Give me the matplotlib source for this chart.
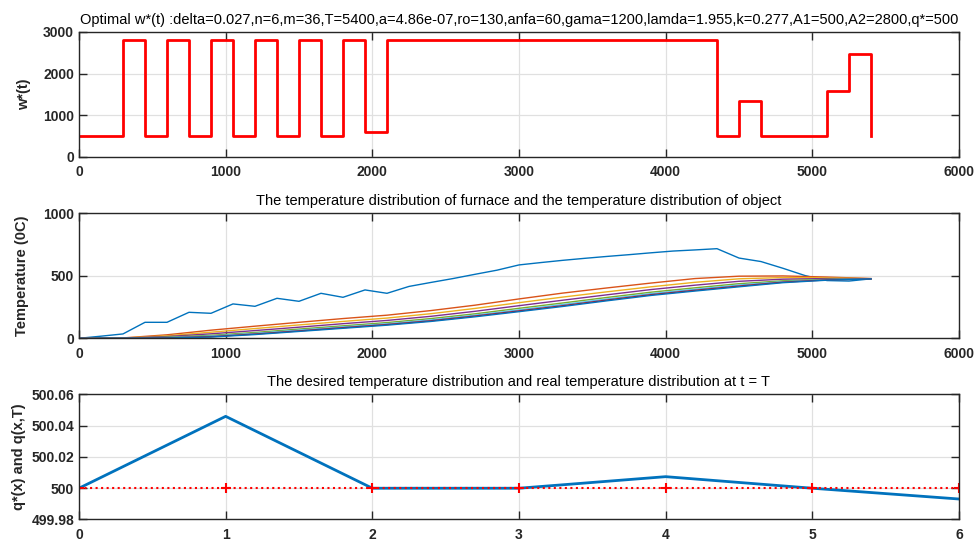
import numpy as np
import matplotlib
matplotlib.use("Agg")
import matplotlib.pyplot as plt
from matplotlib.ticker import FormatStrFormatter

plt.rcParams['font.family'] = ['Liberation Sans', 'DejaVu Sans']

# ---- data ----
# optimal control w*(t), piecewise constant on steps of 150 s (last value repeats end)
t_w = np.arange(0, 5401, 150)
w_opt = [500, 500, 2800, 500, 2800, 500, 2800, 500, 2800, 500, 2800, 500, 2800, 590,
         2800, 2800, 2800, 2800, 2800, 2800, 2800, 2800, 2800, 2800, 2800, 2800, 2800,
         2800, 2800, 500, 1345, 500, 500, 500, 1590, 2470, 500]

# furnace temperature, every 150 s
t_f = np.arange(0, 5401, 150)
furnace = [0, 17, 35, 128, 128, 208, 200, 275, 256, 320, 296, 360, 328, 387, 360,
           415, 447, 478, 512, 545, 587, 606, 624, 640, 655, 669, 684, 698, 707, 717,
           642, 614, 560, 502, 462, 458, 476]

# object temperature at the nodes x = 0..6, every 300 s
t_o = np.arange(0, 5401, 300)
obj_x0 = [0, 3, 28, 65, 97, 128, 158, 185, 222, 265, 315, 362, 403, 442, 478, 497, 499, 490, 478]
obj_x1 = [0, 2, 20, 49, 78, 107, 135, 162, 197, 239, 285, 330, 372, 412, 448, 476, 486, 484, 477]
obj_x2 = [0, 1, 14, 36, 62, 89, 117, 143, 176, 216, 261, 305, 348, 390, 425, 456, 473, 478, 477]
obj_x3 = [0, 1, 9, 24, 47, 74, 100, 126, 158, 196, 240, 283, 327, 369, 404, 437, 460, 472, 476]
obj_x4 = [0, 0, 6, 18, 39, 65, 91, 116, 147, 185, 227, 270, 314, 357, 392, 426, 453, 469, 476]
obj_x5 = [0, 0, 4, 13, 34, 59, 85, 110, 140, 178, 219, 261, 306, 349, 384, 418, 449, 467, 475]
obj_x6 = [0, 0, 2, 10, 30, 55, 80, 105, 135, 172, 213, 255, 300, 343, 378, 412, 445, 465, 475]
objects = [obj_x0, obj_x1, obj_x2, obj_x3, obj_x4, obj_x5, obj_x6]

# final temperature distribution
x_nodes = [0, 1, 2, 3, 4, 5, 6]
q_real = [500.0, 500.046, 500.0, 500.0, 500.0074, 500.0, 499.9931]
q_star = [500, 500, 500, 500, 500, 500, 500]

title_top = ("Optimal w*(t) :delta=0.027,n=6,m=36,T=5400,a=4.86e-07,ro=130,anfa=60,"
             "gama=1200,lamda=1.955,k=0.277,A1=500,A2=2800,q*=500")

mat_colors = ['#0072BD', '#D95319', '#EDB120', '#7E2F8E', '#77AC30', '#4DBEEE', '#A2142F']
axcol = '#262626'

fig = plt.figure(figsize=(9.75, 5.4), dpi=100)


def style(ax):
    ax.grid(True, color='#e0e0e0', linewidth=0.9)
    ax.set_axisbelow(True)
    for s in ax.spines.values():
        s.set_color(axcol)
        s.set_linewidth(1.0)
    ax.tick_params(direction='in', length=6, width=1, colors=axcol,
                   top=True, right=True, labelsize=10)
    ax.tick_params(axis='x', pad=6)
    for lab in ax.get_xticklabels() + ax.get_yticklabels():
        lab.set_fontweight('bold')


# top: optimal control
ax1 = fig.add_axes([0.081, 0.7093, 0.9026, 0.2315])
ax1.step(t_w, w_opt, where='post', color='#FF0000', linewidth=2)
ax1.set_xlim(0, 6000)
ax1.set_ylim(0, 3000)
ax1.set_xticks(range(0, 6001, 1000))
ax1.set_yticks(range(0, 3001, 1000))
ax1.set_ylabel('w*(t)', fontsize=10.5, fontweight='bold', color=axcol, labelpad=9)
ax1.set_title(title_top, fontsize=10.5, pad=6)
style(ax1)

# middle: furnace and object temperatures
ax2 = fig.add_axes([0.081, 0.3735, 0.9026, 0.2315])
ax2.plot(t_f, furnace, color=mat_colors[0], linewidth=1)
for i, obj in enumerate(objects):
    ax2.plot(t_o, obj, color=mat_colors[(i + 1) % 7], linewidth=1)
ax2.set_xlim(0, 6000)
ax2.set_ylim(0, 1000)
ax2.set_xticks(range(0, 6001, 1000))
ax2.set_yticks([0, 500, 1000])
ax2.set_ylabel('Temperature (0C)', fontsize=10.5, fontweight='bold', color=axcol, labelpad=10)
ax2.set_title('The temperature distribution of furnace and the temperature distribution of object',
              fontsize=10.5, pad=6)
style(ax2)

# bottom: desired vs real at t = T
ax3 = fig.add_axes([0.081, 0.038, 0.9026, 0.2315])
ax3.plot(x_nodes, q_real, color='#0072BD', linewidth=2)
ax3.plot(x_nodes, q_star, color='#FF0000', linestyle=':', linewidth=1.5,
         marker='+', markersize=7, markeredgewidth=1.5)
ax3.set_xlim(0, 6)
ax3.set_ylim(499.98, 500.06)
ax3.set_xticks(x_nodes)
ax3.set_yticks([499.98, 500.0, 500.02, 500.04, 500.06])
ax3.yaxis.set_major_formatter(FormatStrFormatter('%g'))
ax3.set_ylabel('q*(x) and q(x,T)', fontsize=10.5, fontweight='bold', color=axcol)
ax3.set_title('The desired temperature distribution and real temperature distribution at t = T',
              fontsize=10.5, pad=6)
style(ax3)

fig.savefig('out.png', dpi=100)
